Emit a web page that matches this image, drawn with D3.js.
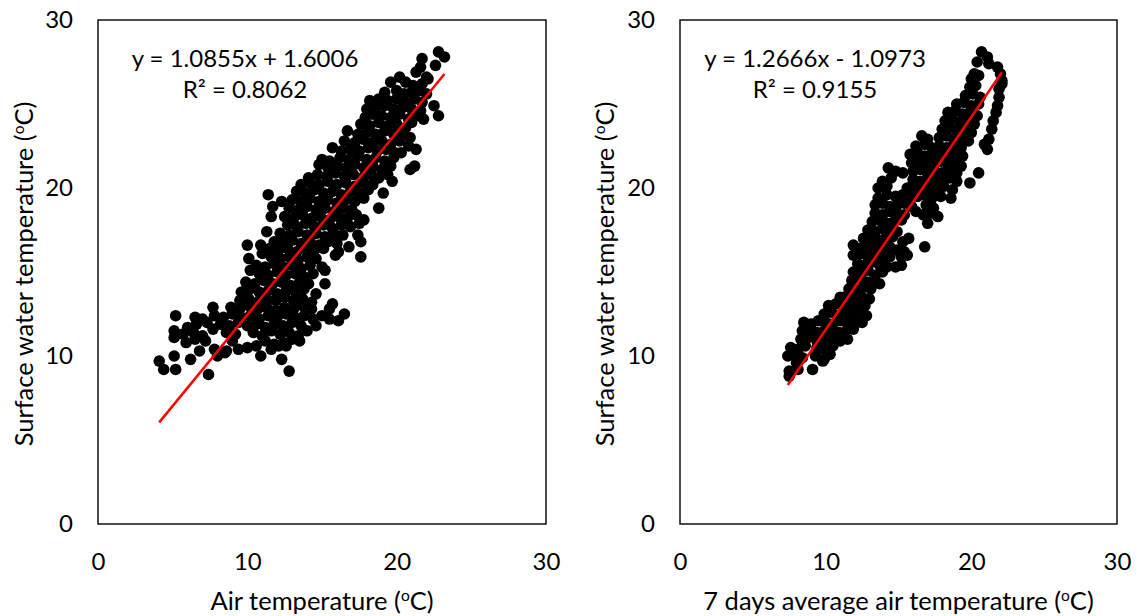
<!DOCTYPE html>
<html>
<head>
<meta charset="utf-8">
<script src="https://cdn.jsdelivr.net/npm/d3@7"></script>
<style>
    body { margin: 0; background: #fff; }
    text { font-family: Lato, "Open Sans", sans-serif; fill: #000; }
</style>
</head>
<body>
<div id="chart"></div>
<script>
// axis ticks (same on both panels)
const xTicks = [0, 10, 20, 30]
const yTicks = [0, 10, 20, 30]

// air temperature vs surface water temperature  [x, y]
const airPoints = [
    [22.8,28.1],[23.2,27.8],
    [21.6,27.2],[22.6,27.3],[21.7,27.7],
    [21.3,26.9],[22.0,26.6],
    [19.6,26.3],[20.2,26.6],[20.6,26.3],[21.1,26.1],[21.7,26.2],[22.1,26.5],
    [19.2,25.7],[20.0,25.8],[20.5,25.6],[21.0,25.7],[21.5,25.8],[22.0,25.6],
    [18.2,25.2],[18.8,25.3],[19.4,25.2],[20.0,25.3],[20.6,25.1],[21.2,25.3],[21.7,25.1],
    [18.0,24.7],[18.6,24.8],[19.2,24.9],[19.8,24.7],[20.4,24.8],[21.0,24.7],[21.6,24.6],[22.5,24.9],
    [17.9,24.2],[18.4,24.4],[19.0,24.3],[19.6,24.2],[20.2,24.4],[20.8,24.1],[21.4,24.3],[21.8,24.1],[22.8,24.3],
    [17.6,23.8],[18.2,23.7],[18.8,23.9],[19.4,23.7],[20.0,23.8],[20.6,23.6],[21.0,23.9],
    [16.7,23.4],[17.4,23.2],[18.0,23.3],[18.6,23.2],[19.2,23.4],[19.8,23.2],[20.4,23.3],[20.9,23.0],
    [16.5,22.8],[17.2,22.7],[17.8,22.9],[18.4,22.7],[19.0,22.8],[19.6,22.6],[20.2,22.8],[20.8,22.5],
    [15.7,22.4],[16.3,22.2],[16.9,22.3],[17.5,22.2],[18.1,22.4],[18.7,22.2],[19.3,22.3],[19.9,22.1],[20.3,22.1],[21.3,22.3],
    [15.0,21.7],[15.5,21.6],[16.2,21.8],[16.8,21.7],[17.4,21.9],[18.0,21.7],[18.6,21.8],[19.2,21.6],[19.8,21.8],
    [14.8,21.4],[15.4,21.2],[16.0,21.3],[16.6,21.2],[17.2,21.4],[17.8,21.2],[18.4,21.3],[19.0,21.1],[19.6,21.3],[20.9,21.1],[21.2,21.3],
    [14.1,20.6],[14.7,20.8],[15.3,20.7],[15.9,20.9],[16.5,20.7],[17.1,20.8],[17.7,20.6],[18.3,20.8],[18.8,20.6],[19.4,20.8],
    [13.6,20.2],[14.2,20.3],[14.8,20.2],[15.4,20.4],[16.0,20.2],[16.6,20.3],[17.2,20.1],[17.8,20.3],[18.4,20.2],[19.7,20.4],
    [13.3,19.8],[13.9,19.7],[14.5,19.9],[15.1,19.7],[15.7,19.8],[16.3,19.6],[16.9,19.8],[17.5,19.7],[18.1,19.9],[19.1,19.7],
    [11.4,19.6],[12.3,19.2],[13.0,19.3],[13.6,19.2],[14.2,19.4],[14.8,19.2],[15.4,19.3],[16.0,19.1],[16.6,19.3],[17.2,19.2],[17.8,19.4],
    [11.7,18.9],[12.8,18.8],[13.4,18.7],[14.0,18.9],[14.6,18.7],[15.2,18.8],[15.8,18.6],[16.4,18.8],[17.0,18.7],[18.8,18.8],
    [11.6,18.3],[12.5,18.3],[13.1,18.2],[13.7,18.4],[14.3,18.2],[14.9,18.3],[15.5,18.1],[16.1,18.3],[16.7,18.2],[17.3,18.4],[17.8,18.1],
    [12.7,17.8],[13.3,17.7],[13.9,17.9],[14.5,17.7],[15.1,17.8],[15.7,17.6],[16.3,17.8],[16.9,17.7],[17.5,17.9],
    [11.3,17.4],[12.2,17.3],[12.8,17.2],[13.4,17.4],[14.0,17.2],[14.6,17.3],[15.2,17.1],[15.8,17.3],[16.4,17.2],[17.4,17.2],
    [11.8,16.8],[12.4,16.7],[13.0,16.9],[13.6,16.7],[14.2,16.8],[14.8,16.6],[15.4,16.8],[16.0,16.7],[16.8,16.5],[17.6,16.8],
    [10.0,16.6],[10.9,16.6],[11.5,16.4],[12.1,16.3],[12.7,16.4],[13.3,16.2],[13.9,16.4],[14.5,16.3],[15.1,16.4],[15.9,16.0],[16.1,16.2],
    [10.1,15.8],[11.0,16.1],[11.6,15.9],[12.2,15.8],[12.8,15.9],[13.4,15.7],[14.0,15.9],[14.6,15.8],[17.6,15.9],
    [10.6,15.4],[11.2,15.3],[11.8,15.5],[12.4,15.3],[13.0,15.4],[13.6,15.2],[14.2,15.4],[15.0,15.3],
    [10.2,15.1],[10.8,14.9],[11.4,14.8],[12.0,15.0],[12.6,14.8],[13.2,14.9],[13.8,14.7],[14.4,14.9],[15.2,15.1],
    [9.9,14.4],[10.5,14.3],[11.1,14.5],[11.7,14.3],[12.3,14.4],[12.9,14.2],[13.5,14.4],[14.1,14.3],[15.2,14.3],
    [9.6,13.8],[10.2,14.0],[10.8,13.8],[11.4,13.9],[12.0,13.7],[12.6,13.9],[13.2,13.8],[13.8,14.0],[14.6,13.7],
    [9.5,13.3],[10.1,13.4],[10.7,13.2],[11.3,13.4],[11.9,13.3],[12.5,13.5],[13.1,13.3],[13.7,13.4],[14.3,13.2],
    [7.7,12.9],[8.9,12.9],[9.5,12.8],[10.1,13.0],[10.7,12.8],[11.3,12.9],[11.9,12.7],[12.5,12.9],[13.1,12.8],[13.7,13.0],[14.3,12.8],[15.7,13.1],
    [5.2,12.4],[6.5,12.3],[7.0,12.2],[7.8,12.4],[8.4,12.3],[9.0,12.5],[9.6,12.3],[10.2,12.4],[10.8,12.2],[11.4,12.4],[12.0,12.3],[12.6,12.5],
    [13.2,12.3],[13.8,12.4],[14.4,12.2],[15.0,12.4],[15.5,12.8],[16.5,12.5],
    [6.0,11.7],[6.6,11.9],[7.3,12.0],[8.2,11.9],[8.8,11.8],[9.4,12.0],[10.0,11.8],[10.6,11.9],[11.2,11.7],[11.8,11.9],[12.4,11.8],[13.0,12.0],
    [13.6,11.8],[14.6,11.8],[15.5,12.2],[16.1,12.1],
    [5.1,11.5],[5.7,11.3],[6.4,11.4],[7.0,11.2],[7.7,11.6],[8.6,11.4],[9.2,11.3],[10.4,11.4],[11.0,11.2],[11.6,11.5],[12.2,11.3],[12.8,11.4],[13.4,11.2],[14.0,11.5],
    [5.1,11.1],[5.9,10.8],[6.5,11.0],[7.2,10.9],[9.0,10.9],[11.2,10.9],[11.8,10.7],[12.4,10.8],[13.0,11.0],[13.5,10.9],
    [6.8,10.3],[7.8,10.4],[8.6,10.3],[9.4,10.4],[10.0,10.5],[10.6,10.6],[11.6,10.4],[12.1,10.6],[12.6,10.6],
    [5.1,10.0],[6.2,9.8],[8.0,10.0],[8.5,10.2],[10.9,10.0],
    [4.1,9.7],[12.3,9.8],
    [4.4,9.2],[5.2,9.2],[12.8,9.1],
    [7.4,8.9]
]

// 7 days average air temperature vs surface water temperature  [x, y]
const avgAirPoints = [
    [20.7,28.1],[21.1,27.8],
    [20.4,27.5],[21.2,27.4],[21.8,27.2],
    [20.2,26.8],[22.0,26.8],
    [20.0,26.5],[20.5,26.7],[22.1,26.4],
    [19.9,26.0],[20.3,26.1],[21.9,25.9],[22.1,26.2],
    [19.6,25.5],[20.1,25.6],[20.6,25.4],[21.9,25.4],
    [19.0,25.0],[19.5,25.1],[20.0,24.9],[20.5,25.0],[21.8,24.9],
    [18.4,24.5],[18.9,24.6],[19.4,24.4],[19.9,24.5],[20.4,24.3],[21.7,24.5],
    [18.2,24.0],[18.7,24.1],[19.2,23.9],[19.7,24.0],[20.2,23.8],[21.5,24.0],
    [18.0,23.5],[18.5,23.6],[19.0,23.4],[19.5,23.5],[20.0,23.3],[21.4,23.5],
    [16.6,23.1],[17.0,22.9],[17.8,23.0],[18.3,23.1],[18.8,22.9],[19.3,23.0],[19.8,22.8],[21.2,22.9],
    [16.2,22.5],[16.8,22.6],[17.3,22.4],[17.8,22.5],[18.3,22.4],[18.8,22.6],[19.3,22.4],[20.9,22.6],
    [15.8,22.0],[16.3,22.1],[16.8,21.9],[17.3,22.0],[17.8,22.1],[18.3,21.9],[18.8,22.0],[19.4,21.9],[21.1,22.3],
    [15.9,21.5],[16.4,21.6],[16.9,21.4],[17.4,21.5],[17.9,21.6],[18.4,21.4],[18.9,21.5],[19.3,21.3],
    [14.3,21.2],[14.8,21.0],[15.3,20.9],[16.0,21.0],[16.5,21.1],[17.0,20.9],[17.5,21.0],[18.0,20.9],[18.5,21.1],[19.0,20.9],[20.5,20.9],
    [13.9,20.4],[14.5,20.6],[16.0,20.5],[16.5,20.4],[17.0,20.6],[17.5,20.5],[18.0,20.4],[18.5,20.6],[19.0,20.4],
    [13.6,20.0],[14.2,20.1],[15.6,20.0],[16.1,19.9],[16.6,20.1],[17.1,20.0],[17.6,19.9],[18.1,20.1],[18.7,19.9],[19.9,20.3],
    [13.6,19.4],[14.2,19.6],[14.8,19.5],[15.3,19.6],[15.8,19.4],[16.3,19.5],[16.8,19.6],[17.3,19.4],[17.9,19.5],[18.6,19.4],
    [13.4,19.0],[13.9,19.1],[14.4,18.9],[14.9,19.0],[15.4,19.1],[15.9,18.9],[16.9,19.0],[17.4,18.8],
    [13.4,18.5],[13.9,18.4],[14.4,18.6],[14.9,18.5],[15.4,18.4],[16.2,18.6],[16.7,18.4],[17.2,18.5],[17.7,18.3],
    [13.2,18.0],[13.7,18.1],[14.2,17.9],[14.7,18.0],[15.2,18.1],[17.0,17.9],
    [12.9,17.5],[13.4,17.4],[13.9,17.6],[14.4,17.5],[14.9,17.4],
    [12.6,17.0],[13.1,17.1],[13.6,16.9],[14.1,17.0],[14.6,17.1],[15.3,16.8],[15.7,17.0],
    [11.9,16.6],[12.4,16.4],[12.9,16.5],[13.4,16.6],[13.9,16.4],[14.4,16.5],[14.9,16.3],[15.4,16.2],[16.8,16.5],
    [11.9,16.0],[12.4,16.1],[12.9,15.9],[13.4,16.0],[13.9,15.8],[14.4,15.9],[15.2,15.9],[15.6,16.0],
    [12.2,15.5],[12.7,15.4],[13.2,15.6],[13.7,15.4],[14.2,15.3],[14.8,15.3],[15.2,15.4],
    [11.9,15.0],[12.4,14.9],[12.9,15.1],[13.4,14.8],[13.9,15.0],
    [11.8,14.5],[12.3,14.6],[12.8,14.4],[13.3,14.5],[13.7,14.3],
    [11.6,14.0],[12.1,13.9],[12.6,14.1],[13.1,14.0],
    [11.0,13.5],[11.5,13.6],[12.0,13.4],[12.5,13.5],[13.0,13.4],
    [10.2,13.0],[10.7,13.1],[11.2,12.9],[11.7,13.0],[12.2,12.9],[12.7,13.0],
    [9.9,12.5],[10.4,12.6],[10.9,12.4],[11.4,12.5],[11.9,12.4],[12.4,12.6],[12.8,12.4],
    [8.5,12.0],[9.0,11.9],[9.5,12.1],[10.0,12.0],[10.5,11.9],[11.0,12.1],[11.5,12.0],[12.0,11.9],[12.5,12.0],
    [8.4,11.5],[8.9,11.6],[9.4,11.4],[9.9,11.5],[10.4,11.6],[10.9,11.4],[11.4,11.5],[11.9,11.6],
    [8.3,11.0],[8.8,11.1],[9.4,10.9],[10.0,11.0],[10.5,11.1],[11.0,10.9],[11.5,11.0],
    [7.6,10.5],[8.1,10.4],[8.6,10.6],[9.4,10.5],[9.9,10.4],[10.5,10.6],
    [7.4,10.0],[7.9,10.1],[8.4,9.9],[9.3,10.0],[9.9,9.8],[10.3,10.1],
    [8.0,9.6],[9.8,9.7],
    [7.5,9.1],[8.1,9.2],[9.1,9.2],
    [7.5,8.8]
]

// linear trend lines as printed on the chart
const fitSlopes = [1.0855, 1.2666]
const fitIntercepts = [1.6006, -1.0973]
const equationLabels = ['y = 1.0855x + 1.6006', 'y = 1.2666x - 1.0973']
const r2Labels = ['R² = 0.8062', 'R² = 0.9155']
const xTitles = ['Air temperature', '7 days average air temperature']
const yTitle = 'Surface water temperature'

const config = {
    width: 1139,
    height: 616,
    top: 20,
    bottom: 524,
    tickFont: 24,
    titleFont: 25.5,
    eqFont: 24,
    dotRadius: 5.8,
    panels: [
        {left: 98, right: 546, yTitleX: 25, eqX: 245},
        {left: 680, right: 1117, yTitleX: 606, eqX: 815}
    ]
}

const svg = d3.select('#chart')
    .append('svg')
    .attr('width', config.width)
    .attr('height', config.height)

// writes "label (oC)" with a raised small o
function degreeTitle(sel, label) {
    sel.append('tspan').text(label + ' (')
    sel.append('tspan').attr('font-size', 15.5).attr('dy', -9.5).text('o')
    sel.append('tspan').attr('dy', 9.5).text('C)')
}

function drawPanel(p, points, i) {
    const x = d3.scaleLinear().domain([0, 30]).range([p.left, p.right])
    const y = d3.scaleLinear().domain([0, 30]).range([config.bottom, config.top])

    const g = svg.append('g')

    // plot area border
    g.append('rect')
        .attr('x', p.left)
        .attr('y', config.top)
        .attr('width', p.right - p.left)
        .attr('height', config.bottom - config.top)
        .attr('fill', 'none')
        .attr('stroke', '#000')
        .attr('stroke-width', 1.4)

    const xAxis = g.append('g')
        .attr('transform', `translate(0,${config.bottom})`)
        .call(d3.axisBottom(x).tickValues(xTicks).tickSize(0).tickPadding(29))
    const yAxis = g.append('g')
        .attr('transform', `translate(${p.left},0)`)
        .call(d3.axisLeft(y).tickValues(yTicks).tickSize(0).tickPadding(25))
    ;[xAxis, yAxis].forEach(a => {
        a.select('.domain').remove()
        a.selectAll('text')
            .attr('font-family', 'Lato, sans-serif')
            .attr('font-size', config.tickFont)
            .attr('fill', '#000')
    })

    // dots
    g.append('g')
        .selectAll('circle')
        .data(points)
        .join('circle')
        .attr('cx', d => x(d[0]))
        .attr('cy', d => y(d[1]))
        .attr('r', config.dotRadius)
        .attr('fill', '#000')

    // trend line over the range of the data
    const ext = d3.extent(points, d => d[0])
    const fit = v => fitSlopes[i] * v + fitIntercepts[i]
    g.append('line')
        .attr('x1', x(ext[0]))
        .attr('y1', y(fit(ext[0])))
        .attr('x2', x(ext[1]))
        .attr('y2', y(fit(ext[1])))
        .attr('stroke', '#ff0000')
        .attr('stroke-width', 2.5)

    // equation labels
    g.append('text')
        .attr('x', p.eqX)
        .attr('y', 67)
        .attr('text-anchor', 'middle')
        .attr('font-size', config.eqFont)
        .text(equationLabels[i])
    g.append('text')
        .attr('x', p.eqX)
        .attr('y', 98)
        .attr('text-anchor', 'middle')
        .attr('font-size', config.eqFont)
        .text(r2Labels[i])

    // axis titles
    g.append('text')
        .attr('x', (p.left + p.right) / 2)
        .attr('y', 610)
        .attr('text-anchor', 'middle')
        .attr('font-size', config.titleFont)
        .call(degreeTitle, xTitles[i])

    g.append('text')
        .attr('transform', `translate(${p.yTitleX + 8},${(config.top + config.bottom) / 2 + 2}) rotate(-90)`)
        .attr('text-anchor', 'middle')
        .attr('font-size', config.titleFont)
        .call(degreeTitle, yTitle)
}

drawPanel(config.panels[0], airPoints, 0)
drawPanel(config.panels[1], avgAirPoints, 1)
</script>
</body>
</html>
